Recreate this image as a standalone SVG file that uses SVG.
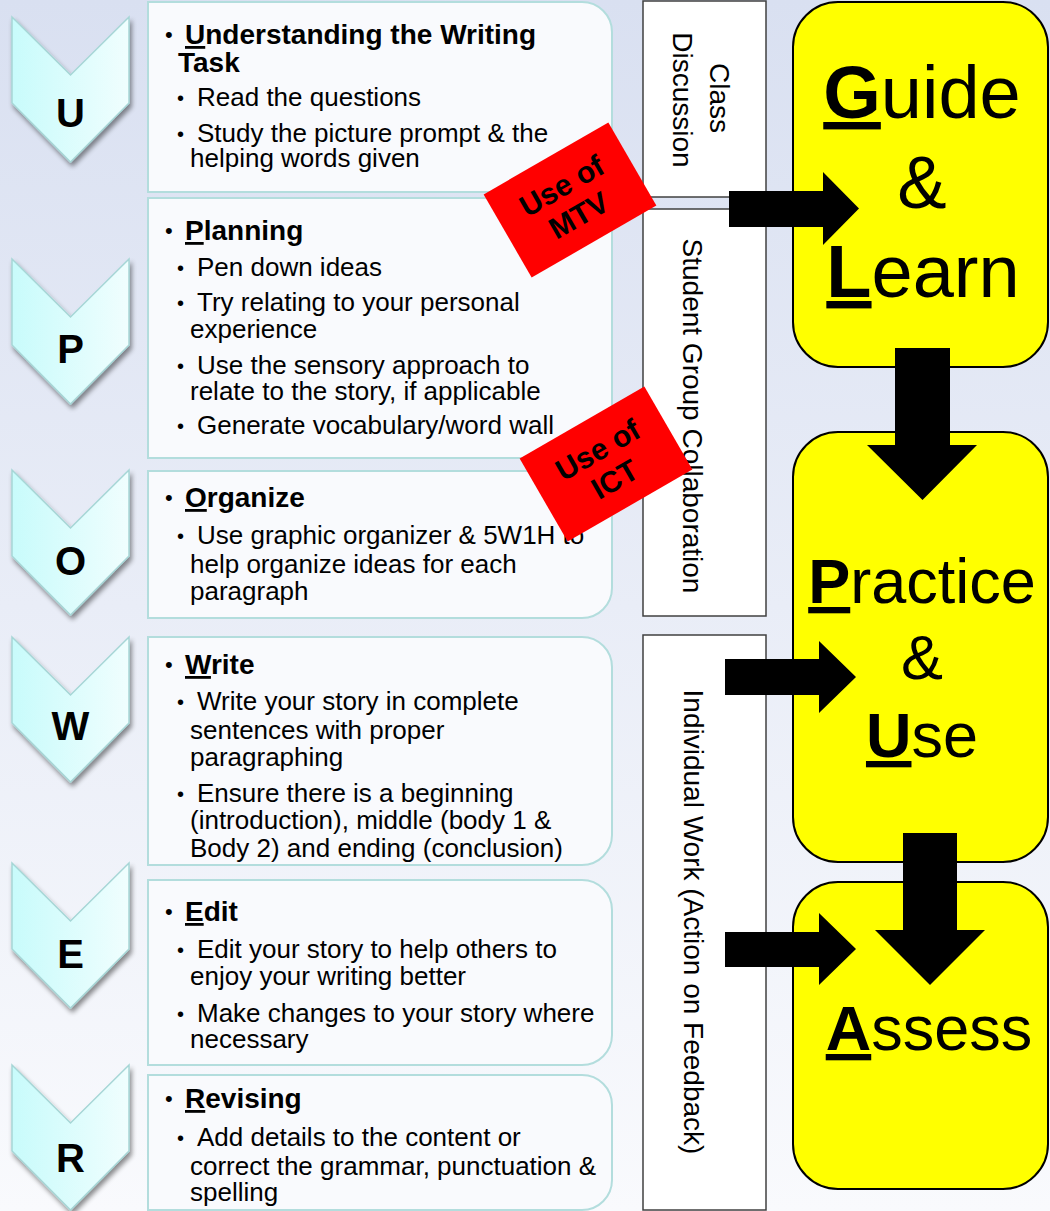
<svg xmlns="http://www.w3.org/2000/svg" width="1050" height="1211" viewBox="0 0 1050 1211">
<defs>
<linearGradient id="bg" x1="0" y1="0" x2="0" y2="1">
<stop offset="0" stop-color="#d9e0f1"/>
<stop offset="1" stop-color="#f9fafd"/>
</linearGradient>
<linearGradient id="chev" x1="0" y1="0" x2="1" y2="0">
<stop offset="0" stop-color="#c8fbfb"/>
<stop offset="1" stop-color="#f0fefe"/>
</linearGradient>
<filter id="sh" x="-20%" y="-20%" width="150%" height="150%">
<feGaussianBlur in="SourceAlpha" stdDeviation="2.5"/>
<feOffset dx="2" dy="4" result="b"/>
<feComponentTransfer><feFuncA type="linear" slope="0.45"/></feComponentTransfer>
<feMerge><feMergeNode/><feMergeNode in="SourceGraphic"/></feMerge>
</filter>
<path id="chevron" d="M12,0 L70.5,58 L129,0 L129,86 L70.5,145 L12,86 Z"/>
</defs>
<style>
text{font-family:"Liberation Sans",Arial,sans-serif;fill:#000}
.box{fill:#f9fafd;stroke:#b3dddd;stroke-width:2}
.chev{fill:url(#chev);stroke:#a6d6d6;stroke-width:1.5}
.ch{font-size:40px;font-weight:bold;text-anchor:middle}
.h{font-size:28px;font-weight:bold}
.t{font-size:26px}
.bh{font-size:22px}
.bt{font-size:20px}
.u{text-decoration:underline}
.vbox{fill:#fff;stroke:#404040;stroke-width:1.5}
.vl{font-size:28px;text-anchor:middle}
.ybox{fill:#ffff00;stroke:#000;stroke-width:2}
.big{font-size:74px;text-anchor:middle}
.big2{font-size:63px;text-anchor:middle}
.b{font-weight:bold}
.arrow{fill:#000}
.tag{fill:#ff0000}
.tagt{font-size:30px;font-weight:bold;text-anchor:middle}
</style>
<rect x="0" y="0" width="1050" height="1211" fill="url(#bg)"/>

<g id="chevron-U"><use href="#chevron" class="chev" transform="translate(0,17)" filter="url(#sh)"/><text class="ch" x="70.5" y="127">U</text></g>
<g id="chevron-P"><use href="#chevron" class="chev" transform="translate(0,259)" filter="url(#sh)"/><text class="ch" x="70.5" y="363">P</text></g>
<g id="chevron-O"><use href="#chevron" class="chev" transform="translate(0,470)" filter="url(#sh)"/><text class="ch" x="70.5" y="575">O</text></g>
<g id="chevron-W"><use href="#chevron" class="chev" transform="translate(0,637)" filter="url(#sh)"/><text class="ch" x="70.5" y="740">W</text></g>
<g id="chevron-E"><use href="#chevron" class="chev" transform="translate(0,863)" filter="url(#sh)"/><text class="ch" x="70.5" y="968">E</text></g>
<g id="chevron-R"><use href="#chevron" class="chev" transform="translate(0,1065)" filter="url(#sh)"/><text class="ch" x="70.5" y="1172">R</text></g>

<g id="step-understanding">
<path class="box" d="M148,2 H582 A30,30 0 0 1 612,32 V162 A30,30 0 0 1 582,192 H148 Z"/>
<text class="bh" x="165" y="42">•</text>
<text class="h" x="185" y="44"><tspan class="u">U</tspan>nderstanding the Writing</text>
<text class="h" x="178" y="72">Task</text>
<text class="bt" x="177" y="105">•</text><text class="t" x="197" y="106">Read the questions</text>
<text class="bt" x="177" y="141">•</text><text class="t" x="197" y="142">Study the picture prompt &amp; the</text>
<text class="t" x="190" y="167">helping words given</text>
</g>

<g id="step-planning">
<path class="box" d="M148,198 H582 A30,30 0 0 1 612,228 V428 A30,30 0 0 1 582,458 H148 Z"/>
<text class="bh" x="165" y="238">•</text>
<text class="h" x="185" y="240"><tspan class="u">P</tspan>lanning</text>
<text class="bt" x="177" y="275">•</text><text class="t" x="197" y="276">Pen down ideas</text>
<text class="bt" x="177" y="310">•</text><text class="t" x="197" y="311">Try relating to your personal</text>
<text class="t" x="190" y="338">experience</text>
<text class="bt" x="177" y="373">•</text><text class="t" x="197" y="374">Use the sensory approach to</text>
<text class="t" x="190" y="400">relate to the story, if applicable</text>
<text class="bt" x="177" y="433">•</text><text class="t" x="197" y="434">Generate vocabulary/word wall</text>
</g>

<g id="step-organize">
<path class="box" d="M148,471 H582 A30,30 0 0 1 612,501 V588 A30,30 0 0 1 582,618 H148 Z"/>
<text class="bh" x="165" y="505">•</text>
<text class="h" x="185" y="507"><tspan class="u">O</tspan>rganize</text>
<text class="bt" x="177" y="543">•</text><text class="t" x="197" y="544">Use graphic organizer &amp; 5W1H to</text>
<text class="t" x="190" y="573">help organize ideas for each</text>
<text class="t" x="190" y="600">paragraph</text>
</g>

<g id="step-write">
<path class="box" d="M148,637 H582 A30,30 0 0 1 612,667 V835 A30,30 0 0 1 582,865 H148 Z"/>
<text class="bh" x="165" y="672">•</text>
<text class="h" x="185" y="674"><tspan class="u">W</tspan>rite</text>
<text class="bt" x="177" y="709">•</text><text class="t" x="197" y="710">Write your story in complete</text>
<text class="t" x="190" y="739">sentences with proper</text>
<text class="t" x="190" y="766">paragraphing</text>
<text class="bt" x="177" y="801">•</text><text class="t" x="197" y="802">Ensure there is a beginning</text>
<text class="t" x="190" y="829">(introduction), middle (body 1 &amp;</text>
<text class="t" x="190" y="857">Body 2) and ending (conclusion)</text>
</g>

<g id="step-edit">
<path class="box" d="M148,880 H582 A30,30 0 0 1 612,910 V1035 A30,30 0 0 1 582,1065 H148 Z"/>
<text class="bh" x="165" y="919">•</text>
<text class="h" x="185" y="921"><tspan class="u">E</tspan>dit</text>
<text class="bt" x="177" y="957">•</text><text class="t" x="197" y="958">Edit your story to help others to</text>
<text class="t" x="190" y="985">enjoy your writing better</text>
<text class="bt" x="177" y="1021">•</text><text class="t" x="197" y="1022">Make changes to your story where</text>
<text class="t" x="190" y="1048">necessary</text>
</g>

<g id="step-revising">
<path class="box" d="M148,1075 H582 A30,30 0 0 1 612,1105 V1180 A30,30 0 0 1 582,1210 H148 Z"/>
<text class="bh" x="165" y="1106">•</text>
<text class="h" x="185" y="1108"><tspan class="u">R</tspan>evising</text>
<text class="bt" x="177" y="1145">•</text><text class="t" x="197" y="1146">Add details to the content or</text>
<text class="t" x="190" y="1175">correct the grammar, punctuation &amp;</text>
<text class="t" x="190" y="1201">spelling</text>
</g>

<g id="mode-class-discussion">
<rect class="vbox" x="643" y="1" width="123" height="196"/>
<text class="vl" transform="translate(710,98) rotate(90)">Class</text>
<text class="vl" transform="translate(673,100) rotate(90)">Discussion</text>
</g>
<g id="mode-student-group">
<rect class="vbox" x="643" y="209" width="123" height="407"/>
<text class="vl" transform="translate(683,416) rotate(90)">Student Group Collaboration</text>
</g>
<g id="mode-individual">
<rect class="vbox" x="643" y="635" width="123" height="575"/>
<text class="vl" transform="translate(684,922) rotate(90)">Individual Work (Action on Feedback)</text>
</g>

<g id="stage-guide-learn">
<rect class="ybox" x="793" y="2" width="255" height="365" rx="45" ry="45"/>
<text class="big" x="922" y="118"><tspan class="b u">G</tspan>uide</text>
<text class="big" x="922" y="208">&amp;</text>
<text class="big" x="923" y="297"><tspan class="b u">L</tspan>earn</text>
</g>
<g id="stage-practice-use">
<rect class="ybox" x="793" y="432" width="255" height="430" rx="45" ry="45"/>
<text class="big2" x="922" y="603"><tspan class="b u">P</tspan>ractice</text>
<text class="big2" x="922" y="679">&amp;</text>
<text class="big2" x="922" y="757"><tspan class="b u">U</tspan>se</text>
</g>
<g id="stage-assess">
<rect class="ybox" x="793" y="882" width="255" height="307" rx="45" ry="45"/>
<text class="big2" x="929" y="1050"><tspan class="b u">A</tspan>ssess</text>
</g>

<g id="connectors">
<polygon class="arrow" points="729,191 823,191 823,172 859,208.5 823,245 823,227 729,227"/>
<polygon class="arrow" points="895,348 950,348 950,445 977,445 922.5,500 867,445 895,445"/>
<polygon class="arrow" points="725,659 819,659 819,641 856,677 819,713 819,695 725,695"/>
<polygon class="arrow" points="903,833 957,833 957,930 985,930 930,985 875,930 903,930"/>
<polygon class="arrow" points="725,932 819,932 819,913 856,949 819,985 819,967 725,967"/>
</g>

<g id="tag-mtv" transform="translate(570,200) rotate(-30)">
<rect class="tag" x="-72" y="-48" width="144" height="96"/>
<text class="tagt" x="0" y="-6">Use of</text>
<text class="tagt" x="0" y="28">MTV</text>
</g>
<g id="tag-ict" transform="translate(606,464) rotate(-30)">
<rect class="tag" x="-72" y="-48" width="144" height="96"/>
<text class="tagt" x="0" y="-6">Use of</text>
<text class="tagt" x="0" y="28">ICT</text>
</g>
</svg>
